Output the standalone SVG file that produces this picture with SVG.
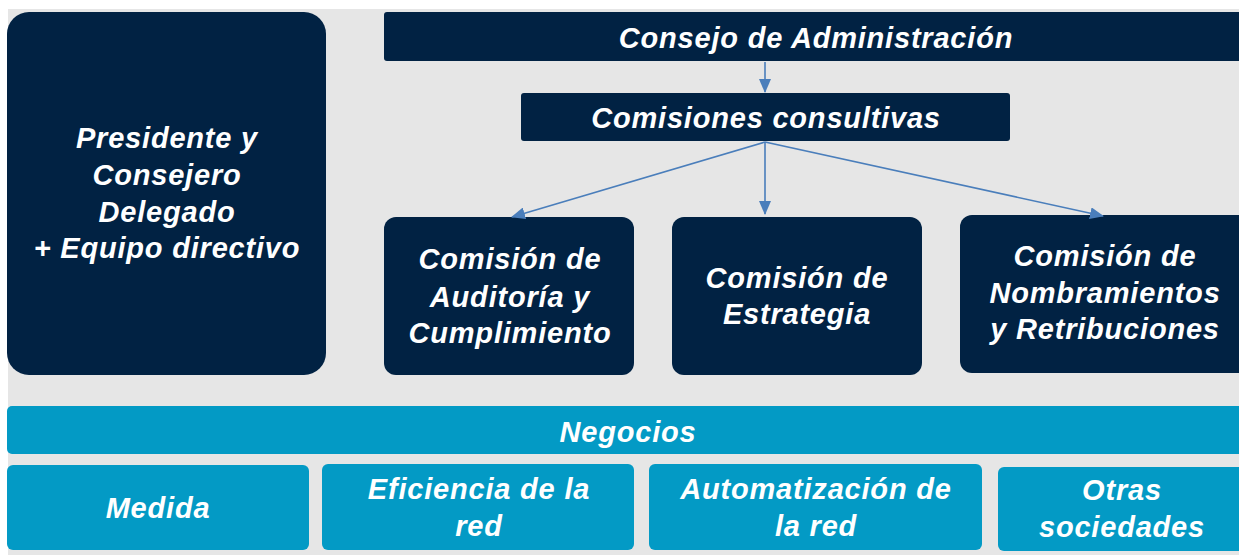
<svg xmlns="http://www.w3.org/2000/svg" width="1239" height="555" viewBox="0 0 1239 555">
<style>
.navy{fill:#012243}
.blue{fill:#039ac5}
.t{font-family:"Liberation Sans",Arial,sans-serif;font-weight:bold;font-style:italic;font-size:29px;letter-spacing:0.8px;fill:#ffffff;text-anchor:middle}
</style>
<defs>
<marker id="ah2" markerWidth="14" markerHeight="12" refX="13" refY="6" orient="auto" markerUnits="userSpaceOnUse">
<path d="M0,0 L14,6 L0,12 Z" fill="#4a7ebb"/>
</marker>
</defs>
<rect x="0" y="0" width="1239" height="555" fill="#ffffff"/>
<rect x="8" y="9" width="1231" height="546" fill="#e6e6e6"/>

<g id="presidente">
<rect class="navy" x="7" y="12" width="319" height="363" rx="22"/>
<text class="t" x="167" y="148">Presidente y</text>
<text class="t" x="167" y="185">Consejero</text>
<text class="t" x="167" y="222">Delegado</text>
<text class="t" x="167" y="258">+ Equipo directivo</text>
</g>

<g id="consejo">
<rect class="navy" x="384" y="12" width="860" height="49" rx="3"/>
<text class="t" x="816" y="48">Consejo de Administración</text>
</g>

<g id="comisiones">
<rect class="navy" x="521" y="93" width="489" height="48" rx="3"/>
<text class="t" x="766" y="128">Comisiones consultivas</text>
</g>

<g id="auditoria">
<rect class="navy" x="384" y="217" width="250" height="158" rx="12"/>
<text class="t" x="510" y="269">Comisión de</text>
<text class="t" x="510" y="307">Auditoría y</text>
<text class="t" x="510" y="343">Cumplimiento</text>
</g>

<g id="estrategia">
<rect class="navy" x="672" y="217" width="250" height="158" rx="12"/>
<text class="t" x="797" y="288">Comisión de</text>
<text class="t" x="797" y="324">Estrategia</text>
</g>

<g id="nombramientos">
<rect class="navy" x="960" y="215" width="290" height="158" rx="12"/>
<text class="t" x="1105" y="266">Comisión de</text>
<text class="t" x="1105" y="303">Nombramientos</text>
<text class="t" x="1105" y="339">y Retribuciones</text>
</g>

<g id="negocios">
<rect class="blue" x="7" y="406" width="1240" height="48" rx="5"/>
<text class="t" x="628" y="442">Negocios</text>
</g>

<g id="medida">
<rect class="blue" x="7" y="465" width="302" height="85" rx="6"/>
<text class="t" x="158" y="518">Medida</text>
</g>

<g id="eficiencia">
<rect class="blue" x="322" y="464" width="312" height="86" rx="6"/>
<text class="t" x="479" y="499">Eficiencia de la</text>
<text class="t" x="479" y="536">red</text>
</g>

<g id="automatizacion">
<rect class="blue" x="649" y="464" width="333" height="86" rx="6"/>
<text class="t" x="816" y="499">Automatización de</text>
<text class="t" x="816" y="536">la red</text>
</g>

<g id="otras">
<rect class="blue" x="998" y="467" width="250" height="84" rx="6"/>
<text class="t" x="1122" y="500">Otras</text>
<text class="t" x="1122" y="537">sociedades</text>
</g>

<g id="connectors" stroke="#4a7ebb" stroke-width="1.6" fill="none">
<line x1="765" y1="62" x2="765" y2="92" marker-end="url(#ah2)"/>
<line x1="765" y1="142" x2="512" y2="217" marker-end="url(#ah2)"/>
<line x1="765" y1="142" x2="765" y2="214" marker-end="url(#ah2)"/>
<line x1="765" y1="142" x2="1103" y2="216" marker-end="url(#ah2)"/>
</g>
</svg>
